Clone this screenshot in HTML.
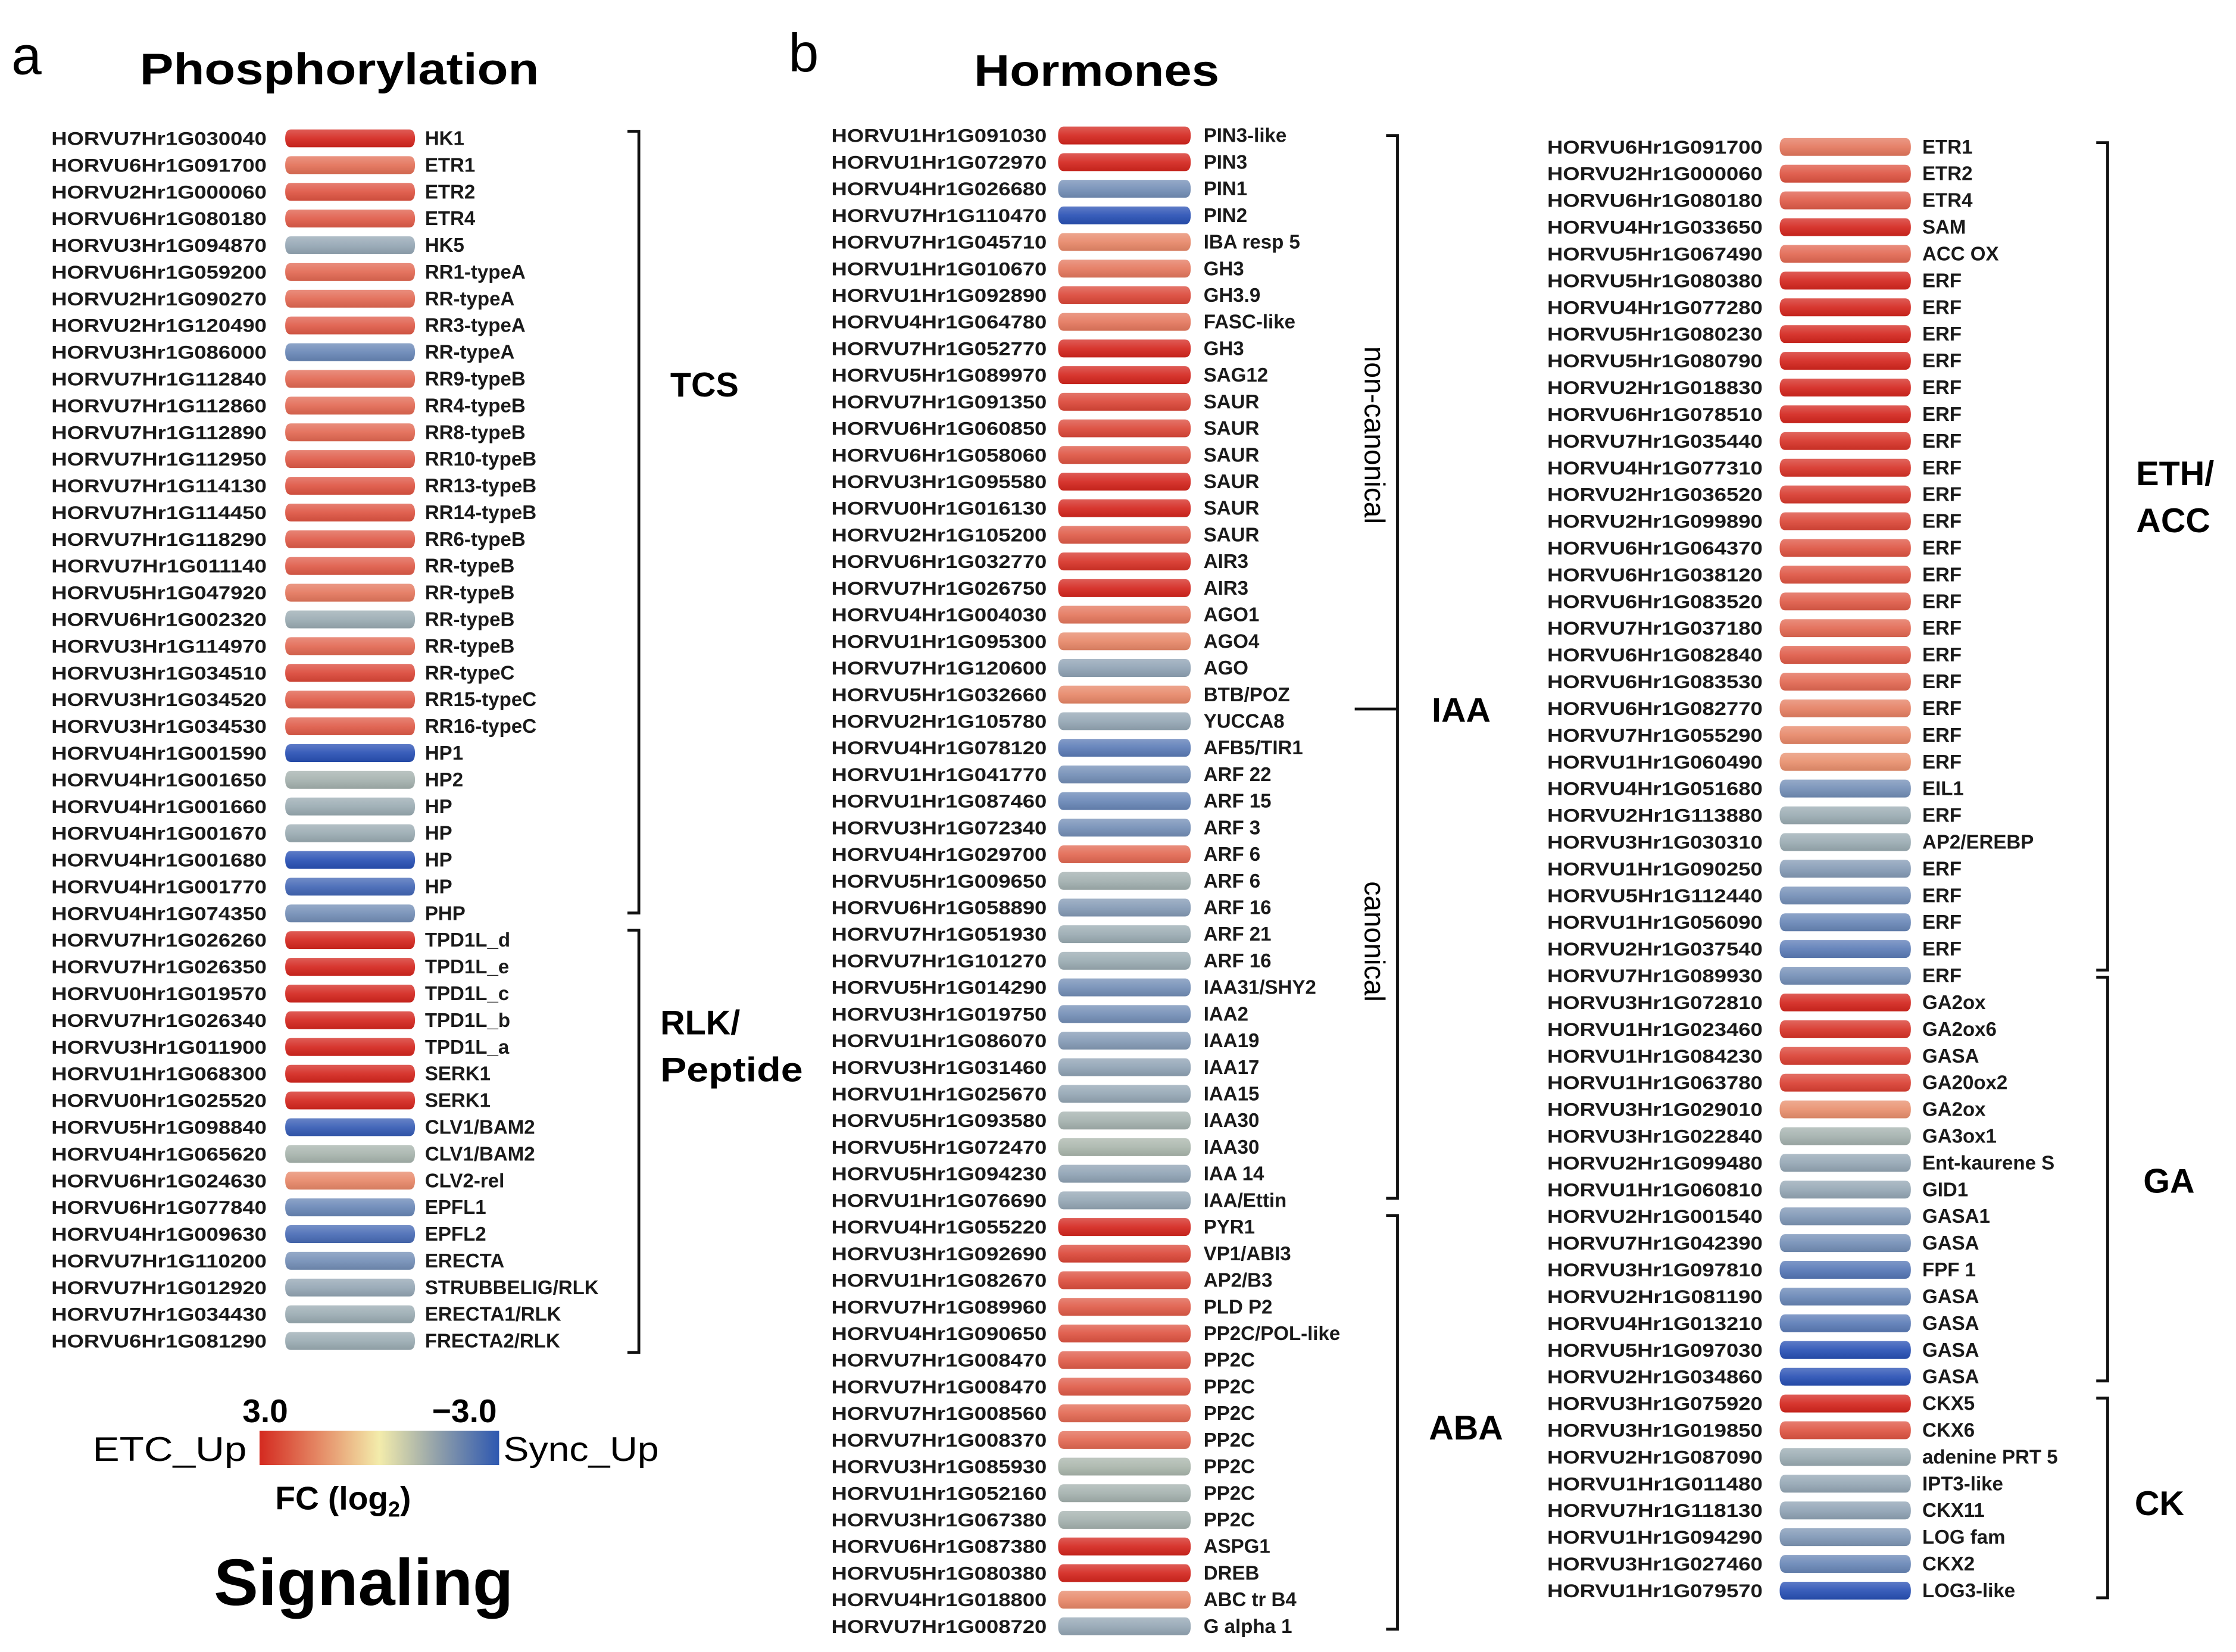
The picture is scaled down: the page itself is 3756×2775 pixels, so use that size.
<!DOCTYPE html>
<html><head><meta charset="utf-8">
<style>
html,body{margin:0;padding:0;background:#fff;}
svg{display:block;}
text{font-family:"Liberation Sans",sans-serif;}
</style></head>
<body>
<svg id="fig" width="3756" height="2775" viewBox="0 0 1568 1158" preserveAspectRatio="none" xmlns="http://www.w3.org/2000/svg">
<defs>
<linearGradient id="cbar" x1="0" x2="1" y1="0" y2="0">
<stop offset="0" stop-color="#d42a20"/><stop offset="0.25" stop-color="#e58a66"/>
<stop offset="0.5" stop-color="#f3ecab"/><stop offset="0.75" stop-color="#8e9eaa"/>
<stop offset="1" stop-color="#2e58b0"/></linearGradient>
<linearGradient id="gloss" x1="0" x2="0" y1="0" y2="1">
<stop offset="0" stop-color="#fff" stop-opacity="0.25"/><stop offset="0.5" stop-color="#fff" stop-opacity="0.08"/>
<stop offset="1" stop-color="#000" stop-opacity="0.08"/></linearGradient>
</defs>
<g id="static">
<text x="8" y="52" font-size="38">a</text>
<text x="98" y="59" font-size="31" font-weight="bold" textLength="280" lengthAdjust="spacingAndGlyphs">Phosphorylation</text>
<text x="553" y="50" font-size="38">b</text>
<text x="683" y="60" font-size="31" font-weight="bold" textLength="172" lengthAdjust="spacingAndGlyphs">Hormones</text>

<path d="M440 92 H448 V640 H440" fill="none" stroke="#111" stroke-width="2"/>
<text x="470" y="278" font-size="24" font-weight="bold">TCS</text>
<path d="M440 652 H448 V948 H440" fill="none" stroke="#111" stroke-width="2"/>
<text x="463" y="725" font-size="24" font-weight="bold">RLK/</text>
<text x="463" y="758" font-size="24" font-weight="bold" textLength="100" lengthAdjust="spacingAndGlyphs">Peptide</text>

<path d="M972 95 H980 V840 H972 M950 497 H980" fill="none" stroke="#111" stroke-width="2"/>
<text x="1004" y="506" font-size="24" font-weight="bold">IAA</text>
<text transform="translate(957,305) rotate(90)" text-anchor="middle" font-size="20">non-canonical</text>
<text transform="translate(957,660) rotate(90)" text-anchor="middle" font-size="20">canonical</text>
<path d="M972 852 H980 V1142 H972" fill="none" stroke="#111" stroke-width="2"/>
<text x="1002" y="1009" font-size="24" font-weight="bold">ABA</text>

<path d="M1470 100 H1478 V680 H1470" fill="none" stroke="#111" stroke-width="2"/>
<text x="1498" y="340" font-size="24" font-weight="bold">ETH/</text>
<text x="1498" y="373" font-size="24" font-weight="bold">ACC</text>
<path d="M1470 685 H1478 V968 H1470" fill="none" stroke="#111" stroke-width="2"/>
<text x="1503" y="836" font-size="24" font-weight="bold">GA</text>
<path d="M1470 980 H1478 V1120 H1470" fill="none" stroke="#111" stroke-width="2"/>
<text x="1497" y="1062" font-size="24" font-weight="bold">CK</text>

<rect x="182" y="1003" width="168" height="24" fill="url(#cbar)"/>
<text x="170" y="997" font-size="23" font-weight="bold">3.0</text>
<text x="303" y="997" font-size="23" font-weight="bold">−3.0</text>
<text x="65" y="1024" font-size="24" textLength="108" lengthAdjust="spacingAndGlyphs">ETC_Up</text>
<text x="353" y="1024" font-size="24" textLength="109" lengthAdjust="spacingAndGlyphs">Sync_Up</text>
<text x="193" y="1058" font-size="23" font-weight="bold">FC (log<tspan font-size="15" dy="5">2</tspan><tspan dy="-5">)</tspan></text>
<text x="150" y="1125" font-size="46" font-weight="bold" textLength="210" lengthAdjust="spacingAndGlyphs">Signaling</text>
</g>
<g id="marks"></g>
</svg>
<script>
// Panel a: Phosphorylation
const genesA = ["HORVU7Hr1G030040","HORVU6Hr1G091700","HORVU2Hr1G000060","HORVU6Hr1G080180","HORVU3Hr1G094870","HORVU6Hr1G059200","HORVU2Hr1G090270","HORVU2Hr1G120490","HORVU3Hr1G086000","HORVU7Hr1G112840","HORVU7Hr1G112860","HORVU7Hr1G112890","HORVU7Hr1G112950","HORVU7Hr1G114130","HORVU7Hr1G114450","HORVU7Hr1G118290","HORVU7Hr1G011140","HORVU5Hr1G047920","HORVU6Hr1G002320","HORVU3Hr1G114970","HORVU3Hr1G034510","HORVU3Hr1G034520","HORVU3Hr1G034530","HORVU4Hr1G001590","HORVU4Hr1G001650","HORVU4Hr1G001660","HORVU4Hr1G001670","HORVU4Hr1G001680","HORVU4Hr1G001770","HORVU4Hr1G074350","HORVU7Hr1G026260","HORVU7Hr1G026350","HORVU0Hr1G019570","HORVU7Hr1G026340","HORVU3Hr1G011900","HORVU1Hr1G068300","HORVU0Hr1G025520","HORVU5Hr1G098840","HORVU4Hr1G065620","HORVU6Hr1G024630","HORVU6Hr1G077840","HORVU4Hr1G009630","HORVU7Hr1G110200","HORVU7Hr1G012920","HORVU7Hr1G034430","HORVU6Hr1G081290"];
const namesA = ["HK1","ETR1","ETR2","ETR4","HK5","RR1-typeA","RR-typeA","RR3-typeA","RR-typeA","RR9-typeB","RR4-typeB","RR8-typeB","RR10-typeB","RR13-typeB","RR14-typeB","RR6-typeB","RR-typeB","RR-typeB","RR-typeB","RR-typeB","RR-typeC","RR15-typeC","RR16-typeC","HP1","HP2","HP","HP","HP","HP","PHP","TPD1L_d","TPD1L_e","TPD1L_c","TPD1L_b","TPD1L_a","SERK1","SERK1","CLV1/BAM2","CLV1/BAM2","CLV2-rel","EPFL1","EPFL2","ERECTA","STRUBBELIG/RLK","ERECTA1/RLK","FRECTA2/RLK"];
const valuesA = [3,1.9,2.3,2.2,-1.2,2,2,2.2,-2,2,2,2,2.2,2.3,2.3,2.2,2.2,1.8,-1,2,2.5,2.2,2.2,-3,-0.7,-1,-1,-3,-2.6,-1.8,3,3,3,3,3,3,3,-2.8,-0.6,1.6,-2,-2.5,-1.8,-1.2,-1,-1];
// Panel b column 1
const genesB1 = ["HORVU1Hr1G091030","HORVU1Hr1G072970","HORVU4Hr1G026680","HORVU7Hr1G110470","HORVU7Hr1G045710","HORVU1Hr1G010670","HORVU1Hr1G092890","HORVU4Hr1G064780","HORVU7Hr1G052770","HORVU5Hr1G089970","HORVU7Hr1G091350","HORVU6Hr1G060850","HORVU6Hr1G058060","HORVU3Hr1G095580","HORVU0Hr1G016130","HORVU2Hr1G105200","HORVU6Hr1G032770","HORVU7Hr1G026750","HORVU4Hr1G004030","HORVU1Hr1G095300","HORVU7Hr1G120600","HORVU5Hr1G032660","HORVU2Hr1G105780","HORVU4Hr1G078120","HORVU1Hr1G041770","HORVU1Hr1G087460","HORVU3Hr1G072340","HORVU4Hr1G029700","HORVU5Hr1G009650","HORVU6Hr1G058890","HORVU7Hr1G051930","HORVU7Hr1G101270","HORVU5Hr1G014290","HORVU3Hr1G019750","HORVU1Hr1G086070","HORVU3Hr1G031460","HORVU1Hr1G025670","HORVU5Hr1G093580","HORVU5Hr1G072470","HORVU5Hr1G094230","HORVU1Hr1G076690","HORVU4Hr1G055220","HORVU3Hr1G092690","HORVU1Hr1G082670","HORVU7Hr1G089960","HORVU4Hr1G090650","HORVU7Hr1G008470","HORVU7Hr1G008470","HORVU7Hr1G008560","HORVU7Hr1G008370","HORVU3Hr1G085930","HORVU1Hr1G052160","HORVU3Hr1G067380","HORVU6Hr1G087380","HORVU5Hr1G080380","HORVU4Hr1G018800","HORVU7Hr1G008720"];
const namesB1 = ["PIN3-like","PIN3","PIN1","PIN2","IBA resp 5","GH3","GH3.9","FASC-like","GH3","SAG12","SAUR","SAUR","SAUR","SAUR","SAUR","SAUR","AIR3","AIR3","AGO1","AGO4","AGO","BTB/POZ","YUCCA8","AFB5/TIR1","ARF 22","ARF 15","ARF 3","ARF 6","ARF 6","ARF 16","ARF 21","ARF 16","IAA31/SHY2","IAA2","IAA19","IAA17","IAA15","IAA30","IAA30","IAA 14","IAA/Ettin","PYR1","VP1/ABI3","AP2/B3","PLD P2","PP2C/POL-like","PP2C","PP2C","PP2C","PP2C","PP2C","PP2C","PP2C","ASPG1","DREB","ABC tr B4","G alpha 1"];
const valuesB1 = [3,3,-1.8,-3,1.6,1.8,2.5,1.8,3,3,2.5,2.5,2.3,3,3,2.2,2.8,3,1.8,1.6,-1.3,1.6,-1.2,-2.2,-1.8,-2,-1.8,2,-0.8,-1.5,-1,-1,-1.8,-1.8,-1.5,-1.3,-1.2,-0.7,-0.5,-1.3,-1.2,3,2.5,2.4,2.2,2.3,2.2,2.2,2,2,-0.5,-0.7,-0.7,3,3,1.6,-1.2];
// Panel b column 2
const genesB2 = ["HORVU6Hr1G091700","HORVU2Hr1G000060","HORVU6Hr1G080180","HORVU4Hr1G033650","HORVU5Hr1G067490","HORVU5Hr1G080380","HORVU4Hr1G077280","HORVU5Hr1G080230","HORVU5Hr1G080790","HORVU2Hr1G018830","HORVU6Hr1G078510","HORVU7Hr1G035440","HORVU4Hr1G077310","HORVU2Hr1G036520","HORVU2Hr1G099890","HORVU6Hr1G064370","HORVU6Hr1G038120","HORVU6Hr1G083520","HORVU7Hr1G037180","HORVU6Hr1G082840","HORVU6Hr1G083530","HORVU6Hr1G082770","HORVU7Hr1G055290","HORVU1Hr1G060490","HORVU4Hr1G051680","HORVU2Hr1G113880","HORVU3Hr1G030310","HORVU1Hr1G090250","HORVU5Hr1G112440","HORVU1Hr1G056090","HORVU2Hr1G037540","HORVU7Hr1G089930","HORVU3Hr1G072810","HORVU1Hr1G023460","HORVU1Hr1G084230","HORVU1Hr1G063780","HORVU3Hr1G029010","HORVU3Hr1G022840","HORVU2Hr1G099480","HORVU1Hr1G060810","HORVU2Hr1G001540","HORVU7Hr1G042390","HORVU3Hr1G097810","HORVU2Hr1G081190","HORVU4Hr1G013210","HORVU5Hr1G097030","HORVU2Hr1G034860","HORVU3Hr1G075920","HORVU3Hr1G019850","HORVU2Hr1G087090","HORVU1Hr1G011480","HORVU7Hr1G118130","HORVU1Hr1G094290","HORVU3Hr1G027460","HORVU1Hr1G079570"];
const namesB2 = ["ETR1","ETR2","ETR4","SAM","ACC OX","ERF","ERF","ERF","ERF","ERF","ERF","ERF","ERF","ERF","ERF","ERF","ERF","ERF","ERF","ERF","ERF","ERF","ERF","ERF","EIL1","ERF","AP2/EREBP","ERF","ERF","ERF","ERF","ERF","GA2ox","GA2ox6","GASA","GA20ox2","GA2ox","GA3ox1","Ent-kaurene S","GID1","GASA1","GASA","FPF 1","GASA","GASA","GASA","GASA","CKX5","CKX6","adenine PRT 5","IPT3-like","CKX11","LOG fam","CKX2","LOG3-like"];
const valuesB2 = [1.8,2.3,2.2,3,2,3,3,3,3,3,3,2.8,2.8,2.7,2.5,2.3,2.3,2.2,2,2.2,2,1.7,1.6,1.5,-1.8,-1,-1,-1.5,-1.8,-2,-2.2,-1.8,3,2.8,2.6,2.6,1.5,-0.7,-1.2,-1.2,-1.6,-1.8,-2.3,-2,-2.2,-3,-3,3,2.3,-1,-1.2,-1.3,-1.6,-2,-3];

const stops = [[3,[212,38,30]],[2,[226,104,82]],[1.3,[234,158,120]],[0.3,[238,214,170]],[-0.5,[170,182,172]],[-1.2,[148,166,180]],[-2,[104,134,182]],[-3,[40,80,180]]];
function colorOf(v){
  v=Math.max(-3,Math.min(3,v));
  for(let i=0;i<stops.length-1;i++){
    const [a,ca]=stops[i],[b,cb]=stops[i+1];
    if(v<=a&&v>=b){const t=(a-v)/(a-b);
      const c=ca.map((x,k)=>Math.round(x+(cb[k]-x)*t));return `rgb(${c.join(',')})`;}
  }
  return 'rgb(40,80,180)';
}
const NS="http://www.w3.org/2000/svg";
const marks=document.getElementById('marks');
function mk(tag,attrs){const e=document.createElementNS(NS,tag);for(const k in attrs)e.setAttribute(k,attrs[k]);return e;}
function drawColumn(genes,names,values,cfg,prefix){
  const yScale=i=>cfg.y0+i*(cfg.y1-cfg.y0)/(genes.length-1);
  genes.forEach((g,i)=>{
    const y=yScale(i);
    const gt=mk('text',{x:cfg.gx,y:y+4.6,'font-size':13.2,'font-weight':'bold',textLength:cfg.gw,lengthAdjust:'spacingAndGlyphs',fill:'#1a1a1a'});
    gt.textContent=g;
    
    
    marks.appendChild(gt);
    const h=12.5,x0=cfg.bx,x1=cfg.bx+cfg.bw,c=4;
    const d=`M${x0+c} ${y-h/2} H${x1-c} Q${x1} ${y-h/2} ${x1} ${y} Q${x1} ${y+h/2} ${x1-c} ${y+h/2} H${x0+c} Q${x0} ${y+h/2} ${x0} ${y} Q${x0} ${y-h/2} ${x0+c} ${y-h/2} Z`;
    const bar=mk('path',{d:d,fill:colorOf(values[i])});
    
    
    marks.appendChild(bar);
    const gl=mk('path',{d:d,fill:'url(#gloss)'});
    
    
    marks.appendChild(gl);
    const nt=mk('text',{x:cfg.nx,y:y+4.6,'font-size':13.8,'font-weight':'bold',fill:'#1a1a1a'});
    nt.textContent=names[i];
    
    
    marks.appendChild(nt);
  });
}
drawColumn(genesA,namesA,valuesA,{y0:97,y1:940,gx:36,gw:151,bx:200,bw:91,nx:298},'phospho');
drawColumn(genesB1,namesB1,valuesB1,{y0:95,y1:1140,gx:583,gw:151,bx:742,bw:93,nx:844},'hormone-col1');
drawColumn(genesB2,namesB2,valuesB2,{y0:103,y1:1115,gx:1085,gw:151,bx:1248,bw:92,nx:1348},'hormone-col2');
</script>
</body></html>
